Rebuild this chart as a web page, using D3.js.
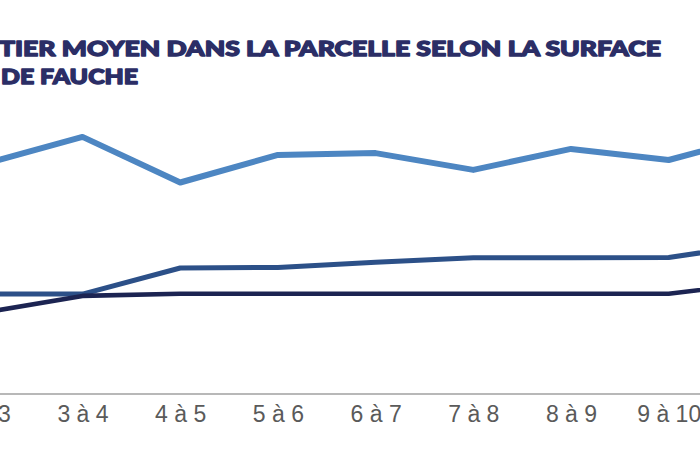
<!DOCTYPE html>
<html>
<head>
<meta charset="utf-8">
<script src="https://cdn.jsdelivr.net/npm/d3@7"></script>
<style>
  html, body { margin: 0; padding: 0; background: #ffffff; }
  svg { display: block; }
</style>
</head>
<body>
<div id="chart"></div>
<script>
// ---- data (y in arbitrary chart units) ----
const categories = ["2 à 3", "3 à 4", "4 à 5", "5 à 6", "6 à 7", "7 à 8", "8 à 9", "9 à 10", "10 à 11"];
const seriesLight = [76.7, 85.7, 70.5, 79.7, 80.3, 74.7, 81.7, 78.0, 86.7];
const seriesMid   = [33.3, 33.3, 42.0, 42.2, 43.9, 45.4, 45.4, 45.5, 50.3];
const seriesDark  = [27.2, 32.7, 33.4, 33.4, 33.4, 33.4, 33.4, 33.4, 37.3];
const titleLines  = ["TIER MOYEN DANS LA PARCELLE SELON LA SURFACE", "DE FAUCHE"];

const W = 700, H = 450;
const svg = d3.select("#chart").append("svg").attr("width", W).attr("height", H);

const x = d3.scalePoint().domain(categories).range([-15.2, 766.4]);
const y = d3.scaleLinear().domain([0, 100]).range([394, 94]);

// title
const title = svg.append("g").attr("fill", "#2b2e66")
  .attr("stroke", "#2b2e66").attr("stroke-width", 1.4).attr("stroke-linejoin", "round")
  .style("font-family", "Lato, Roboto, sans-serif").style("font-weight", 900).style("font-size", "21.5px");
title.append("text").attr("x", -1).attr("y", 55.5).text(titleLines[0])
  .attr("textLength", 662).attr("lengthAdjust", "spacingAndGlyphs");
title.append("text").attr("x", 1).attr("y", 83.5).text(titleLines[1])
  .attr("textLength", 137).attr("lengthAdjust", "spacingAndGlyphs");

// x axis
const xAxis = d3.axisBottom(x).tickSize(0).tickPadding(0);
const gx = svg.append("g").attr("transform", "translate(0,394)").call(xAxis);
gx.select(".domain").remove();
gx.append("line").attr("x1", 0).attr("x2", W).attr("y1", 0).attr("y2", 0)
  .attr("stroke", "#a0a0a0").attr("stroke-width", 1.6);
gx.selectAll(".tick text")
  .attr("y", 28).attr("dy", 0)
  .attr("fill", "#5a5a5a")
  .style("font-family", "'Liberation Sans', Arial, sans-serif")
  .style("font-size", "23px");

// lines
const line = d3.line().x((d, i) => x(categories[i])).y(d => y(d));
const series = [
  { values: seriesLight, color: "#4d86c2", width: 6 },
  { values: seriesMid,   color: "#2c5088", width: 5 },
  { values: seriesDark,  color: "#1c2452", width: 4.6 }
];
svg.append("g").selectAll("path").data(series).join("path")
  .attr("d", d => line(d.values))
  .attr("fill", "none")
  .attr("stroke", d => d.color)
  .attr("stroke-width", d => d.width)
  .attr("stroke-linejoin", "round")
  .attr("stroke-linecap", "butt");
</script>
</body>
</html>
